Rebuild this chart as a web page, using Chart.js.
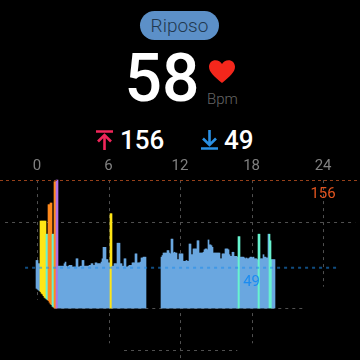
<!DOCTYPE html>
<html lang="en">
<head>
  <meta charset="UTF-8">
  <title>Riposo heart rate</title>
  <script src="https://cdn.jsdelivr.net/npm/chart.js"></script>
  <style>
    html, body { margin: 0; background: #000; width: 360px; height: 360px; overflow: hidden; }
    body { position: relative; font-family: Roboto, sans-serif; }
    .abs { position: absolute; white-space: nowrap; }
    #pill { left: 140px; top: 11px; width: 79px; height: 29px; line-height: 29px; border-radius: 15px;
            background: #5c90c8; color: #21384f; font-size: 19px; font-weight: 300; text-align: center; }
    #bpmValue { left: 124px; top: 40px; width: 76px; text-align: center; line-height: 78px; font-size: 66px; font-weight: 500; color: #fff; }
    #bpmUnit { left: 207px; top: 90px; line-height: 18px; font-size: 15px; font-weight: 300; color: #666; }
    .stat { top: 125px; line-height: 30px; font-size: 26px; font-weight: 500; color: #fff; }
    #chartBox { left: 0; top: 155px; width: 360px; height: 205px; }
  </style>
</head>
<body>
  <div id="pill" class="abs">Riposo</div>
  <div id="bpmValue" class="abs">58</div>
  <svg class="abs" style="left:209px;top:60px" width="26" height="23" viewBox="0 0 24 21">
    <path fill="#f4271c" d="M12 21 C5 15 0 11 0 6 C0 2.500 2.700 0 6 0 C8.500 0 10.800 1.300 12 3.500 C13.200 1.300 15.500 0 18 0 C21.300 0 24 2.500 24 6 C24 11 19 15 12 21 Z"/>
  </svg>
  <div id="bpmUnit" class="abs">Bpm</div>

  <svg class="abs" style="left:96px;top:130px" width="17" height="20" viewBox="0 0 17 20">
    <path fill="none" stroke="#f0265a" stroke-width="2.600" d="M0 1.500 H17 M8.500 20 V5 M2 11.500 L8.500 5 L15 11.500"/>
  </svg>
  <div class="abs stat" style="left:120px">156</div>
  <svg class="abs" style="left:201px;top:130px" width="17" height="20" viewBox="0 0 17 20">
    <path fill="none" stroke="#2a90e4" stroke-width="2.600" d="M0 18.500 H17 M8.500 0 V15 M2 8.500 L8.500 15 L15 8.500"/>
  </svg>
  <div class="abs stat" style="left:224px">49</div>

  <div id="chartBox" class="abs"><canvas id="hrChart" width="360" height="205"></canvas></div>

  <script>
    const hourTicks = [0, 6, 12, 18, 24];
    const maxBpm = 156;
    const minBpm = 49;

    // one value per sample, null = no data
    const bpmValues = [
      58,58,54,54,106,106,106,106,106,106,90,90,126,126,128,128,90,90,154,154,156,156,
      51,51,51,51,51,51,54,56,51,50,51,52,52,52,50,50,50,50,60,60,50,50,51,51,58,58,
      51,51,51,51,51,52,52,54,54,52,52,55,55,54,54,54,54,56,60,74,74,74,59,59,55,55,
      115,115,51,51,54,54,54,79,79,79,54,54,51,51,60,60,50,50,51,52,52,52,55,55,55,66,66,
      55,55,55,56,61,61,62,62,62,
      null,null,null,null,null,null,null,null,null,null,null,null,null,null,null,
      62,64,67,67,67,67,70,70,67,66,84,84,67,68,67,67,59,59,66,66,66,66,57,57,57,58,57,57,
      78,78,65,65,72,72,72,72,82,82,67,67,67,67,68,71,72,72,71,83,77,77,76,74,
      67,67,67,67,67,67,67,60,60,66,66,66,72,72,72,71,65,63,63,68,68,63,63,63,62,
      87,87,62,62,62,62,61,60,61,60,60,61,62,62,61,62,60,60,60,59,
      90,90,60,60,60,65,62,62,61,61,90,90,82,59,59,59,59
    ];
    // bottom of the first samples, later ones sit on 0
    const bpmLows = [24,23,22,21,20,18,17,15,13,12,11,10,9,7,5,4,2,1];
    // b blue, y yellow, o orange, c cyan, p purple
    const zoneRuns = [['b',4],['y',6],['c',2],['o',4],['c',2],['o',2],['p',2],['b',52],['y',2],['b',126],['c',2],['b',18],['c',2],['b',9],['c',3],['b',4]];
    const zoneColors = { b: '#6aa8e0', y: '#ffe516', o: '#ff8a1c', c: '#68f3cf', p: '#b070e6' };

    // [bpm, from hour, to hour]
    const hGrid = [[105, -2.68, 26.7], [0, 1.45, 22.5], [-51, 7.3, 16.8]];
    // [hour, from bpm, to bpm]
    const vGrid = [[0, 156, 10], [6, 156, -43], [12, 156, -63], [18, 156, -43], [24, 156, 26]];

    const pxPerHour = 11.92;
    const pxPerBpm = 0.82;
    const zones = zoneRuns.flatMap(([z, n]) => Array(n).fill(z));

    const points = [];
    const colors = [];
    bpmValues.forEach((v, i) => {
      if (v === null) return;
      points.push({ x: (i - 0.5) / pxPerHour, y: [bpmLows[i] || 0, v] });
      colors.push(zoneColors[zones[i]]);
    });

    const dashLine = (ctx, x1, y1, x2, y2, color, width, dash) => {
      ctx.save();
      ctx.strokeStyle = color;
      ctx.lineWidth = width;
      ctx.setLineDash(dash);
      ctx.beginPath();
      ctx.moveTo(x1, y1);
      ctx.lineTo(x2, y2);
      ctx.stroke();
      ctx.restore();
    };

    const guides = {
      id: 'guides',
      beforeDatasetsDraw(chart) {
        const { ctx, scales: { x, y } } = chart;
        hGrid.forEach(([b, h1, h2]) => {
          const py = Math.round(y.getPixelForValue(b)) + 0.5;
          dashLine(ctx, x.getPixelForValue(h1), py, x.getPixelForValue(h2), py, '#505050', 1, [3, 4]);
        });
        vGrid.forEach(([h, b1, b2]) => {
          const px = Math.round(x.getPixelForValue(h)) + 0.5;
          dashLine(ctx, px, y.getPixelForValue(b1), px, y.getPixelForValue(b2), '#505050', 1, [3, 4]);
        });
      },
      afterDatasetsDraw(chart) {
        const { ctx, scales: { x, y } } = chart;
        const top = Math.round(y.getPixelForValue(maxBpm)) + 0.5;
        dashLine(ctx, 0, top, 360, top, '#96401a', 1, [3, 3]);
        const low = y.getPixelForValue(minBpm);
        dashLine(ctx, x.getPixelForValue(-1), low, x.getPixelForValue(25.2), low, 'rgba(30,140,235,0.55)', 2, [3, 4]);
        ctx.save();
        ctx.font = '15px Roboto';
        ctx.textAlign = 'center';
        ctx.textBaseline = 'middle';
        ctx.fillStyle = '#e2541f';
        ctx.fillText(String(maxBpm), x.getPixelForValue(24), y.getPixelForValue(139));
        ctx.fillStyle = '#1c8cf0';
        ctx.fillText(String(minBpm), x.getPixelForValue(18), y.getPixelForValue(32));
        ctx.restore();
      }
    };

    new Chart(document.getElementById('hrChart'), {
      type: 'bar',
      data: {
        datasets: [{ data: points, backgroundColor: colors, borderWidth: 0, barThickness: 1 }]
      },
      plugins: [guides],
      options: {
        responsive: false,
        animation: false,
        layout: { padding: 0 },
        plugins: { legend: { display: false }, tooltip: { enabled: false } },
        scales: {
          x: {
            type: 'linear',
            position: 'top',
            offset: false,
            min: -37 / pxPerHour,
            max: 323 / pxPerHour,
            afterBuildTicks: (axis) => { axis.ticks = hourTicks.map(value => ({ value })); },
            afterFit: (axis) => { axis.height = 20; },
            grid: { display: false, drawTicks: false },
            border: { display: false },
            ticks: { color: '#808080', font: { family: 'Roboto', size: 15 }, padding: 0, maxRotation: 0, autoSkip: false }
          },
          y: {
            display: false,
            min: -52 / pxPerBpm,
            max: 133 / pxPerBpm
          }
        }
      }
    });
  </script>
</body>
</html>
